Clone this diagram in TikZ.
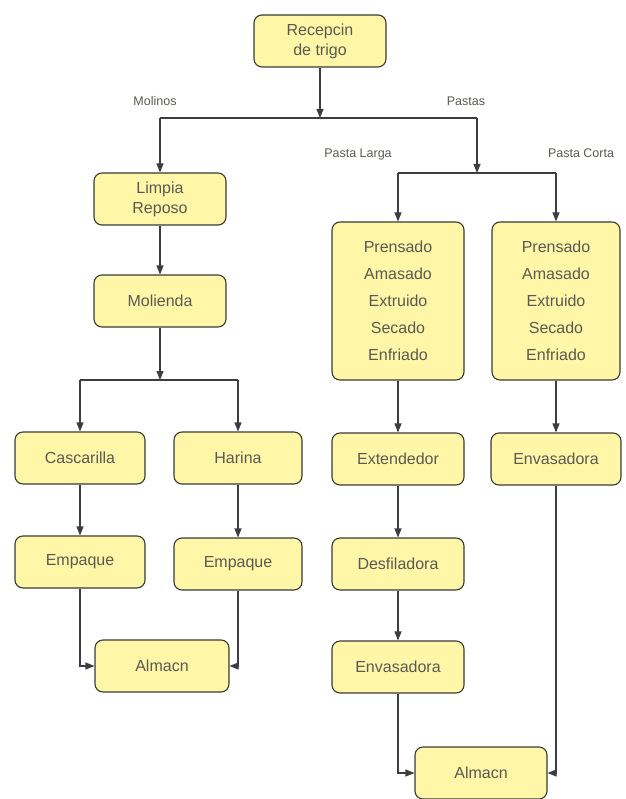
\documentclass[tikz,border=0pt]{standalone}
\usepackage{fontspec}
\setmainfont{Liberation Sans}
\usepackage{tikz}
\usetikzlibrary{arrows.meta, positioning, calc}
\definecolor{bxfill}{HTML}{FFF6A8}
\definecolor{bxline}{HTML}{3A3A36}
\definecolor{bxtext}{HTML}{5A5A52}
\definecolor{lnclr}{HTML}{3C3C44}

\begin{document}
\begin{tikzpicture}[x=1pt, y=-1pt, font=\fontsize{16}{20}\selectfont,
          bx/.style={draw=bxline, line width=1.1pt, fill=bxfill, rounded corners=8pt, text=bxtext,
                     minimum width=132pt, minimum height=52pt, inner sep=0pt, align=center},
          tall/.style={bx, minimum height=158pt, font=\fontsize{16}{27}\selectfont},
          lbl/.style={text=bxtext, font=\fontsize{12.5}{14}\selectfont},
          ln/.style={draw=lnclr, line width=1.1pt},
          arr/.style={ln, -{Triangle[length=9pt, width=7pt]}}]
          \useasboundingbox (0,0) rectangle (625,799);
          \node[bx] (rec) at (320,41) {Recepcin\\de trigo};
          \node[bx] (lim) at (160,199) {Limpia\\Reposo};
          \node[bx] (mol) at (160,301) {Molienda};
          \node[bx, minimum width=130pt] (cas) at (80,458) {Cascarilla};
          \node[bx, minimum width=128pt] (har) at (238,458) {Harina};
          \node[bx, minimum width=130pt] (emp1) at (80,562) {Empaque};
          \node[bx, minimum width=128pt] (emp2) at (238,564) {Empaque};
          \node[bx, minimum width=134pt] (alm1) at (162,666) {Almacn};
          \node[tall] (pl) at (398,301) {Prensado\\Amasado\\Extruido\\Secado\\Enfriado};
          \node[tall, minimum width=128pt] (pc) at (556,301) {Prensado\\Amasado\\Extruido\\Secado\\Enfriado};
          \node[bx] (ext) at (398,459) {Extendedor};
          \node[bx, minimum width=130pt] (env2) at (556,459) {Envasadora};
          \node[bx] (des) at (398,564) {Desfiladora};
          \node[bx] (env1) at (398,667) {Envasadora};
          \node[bx] (alm2) at (481,773) {Almacn};
          \node[lbl] (molinos) at (155,101) {Molinos};
          \node[lbl] (pastas) at (466,101) {Pastas};
          \node[lbl] (larga) at (358,154) {Pasta Larga};
          \node[lbl] (corta) at (581,153) {Pasta Corta};
          \coordinate (b1) at (320,118);
          \coordinate (b1l) at (160,118);
          \coordinate (b1r) at (477,118);
          \coordinate (b2) at (477,173);
          \coordinate (b2l) at (398,173);
          \coordinate (b2r) at (556,173);
          \coordinate (b3) at (160,380);
          \coordinate (b3l) at (80,380);
          \coordinate (b3r) at (238,380);
          \draw[arr] (rec) -- (b1);
          \draw[ln] (b1l) -- (b1r);
          \draw[arr] (b1l) -- (lim);
          \draw[arr] (b1r) -- (b2);
          \draw[ln] (b2l) -- (b2r);
          \draw[arr] (b2l) -- (pl);
          \draw[arr] (b2r) -- (pc);
          \draw[arr] (lim) -- (mol);
          \draw[arr] (mol) -- (b3);
          \draw[ln] (b3l) -- (b3r);
          \draw[arr] (b3l) -- (cas);
          \draw[arr] (b3r) -- (har);
          \draw[arr] (cas) -- (emp1);
          \draw[arr] (har) -- (emp2);
          \draw[arr] (emp1) |- (alm1);
          \draw[arr] (emp2) |- (alm1);
          \draw[arr] (pl) -- (ext);
          \draw[arr] (pc) -- (env2);
          \draw[arr] (ext) -- (des);
          \draw[arr] (des) -- (env1);
          \draw[arr] (env1) |- (alm2);
          \draw[arr] (env2) |- (alm2);
        \end{tikzpicture}
\end{document}
